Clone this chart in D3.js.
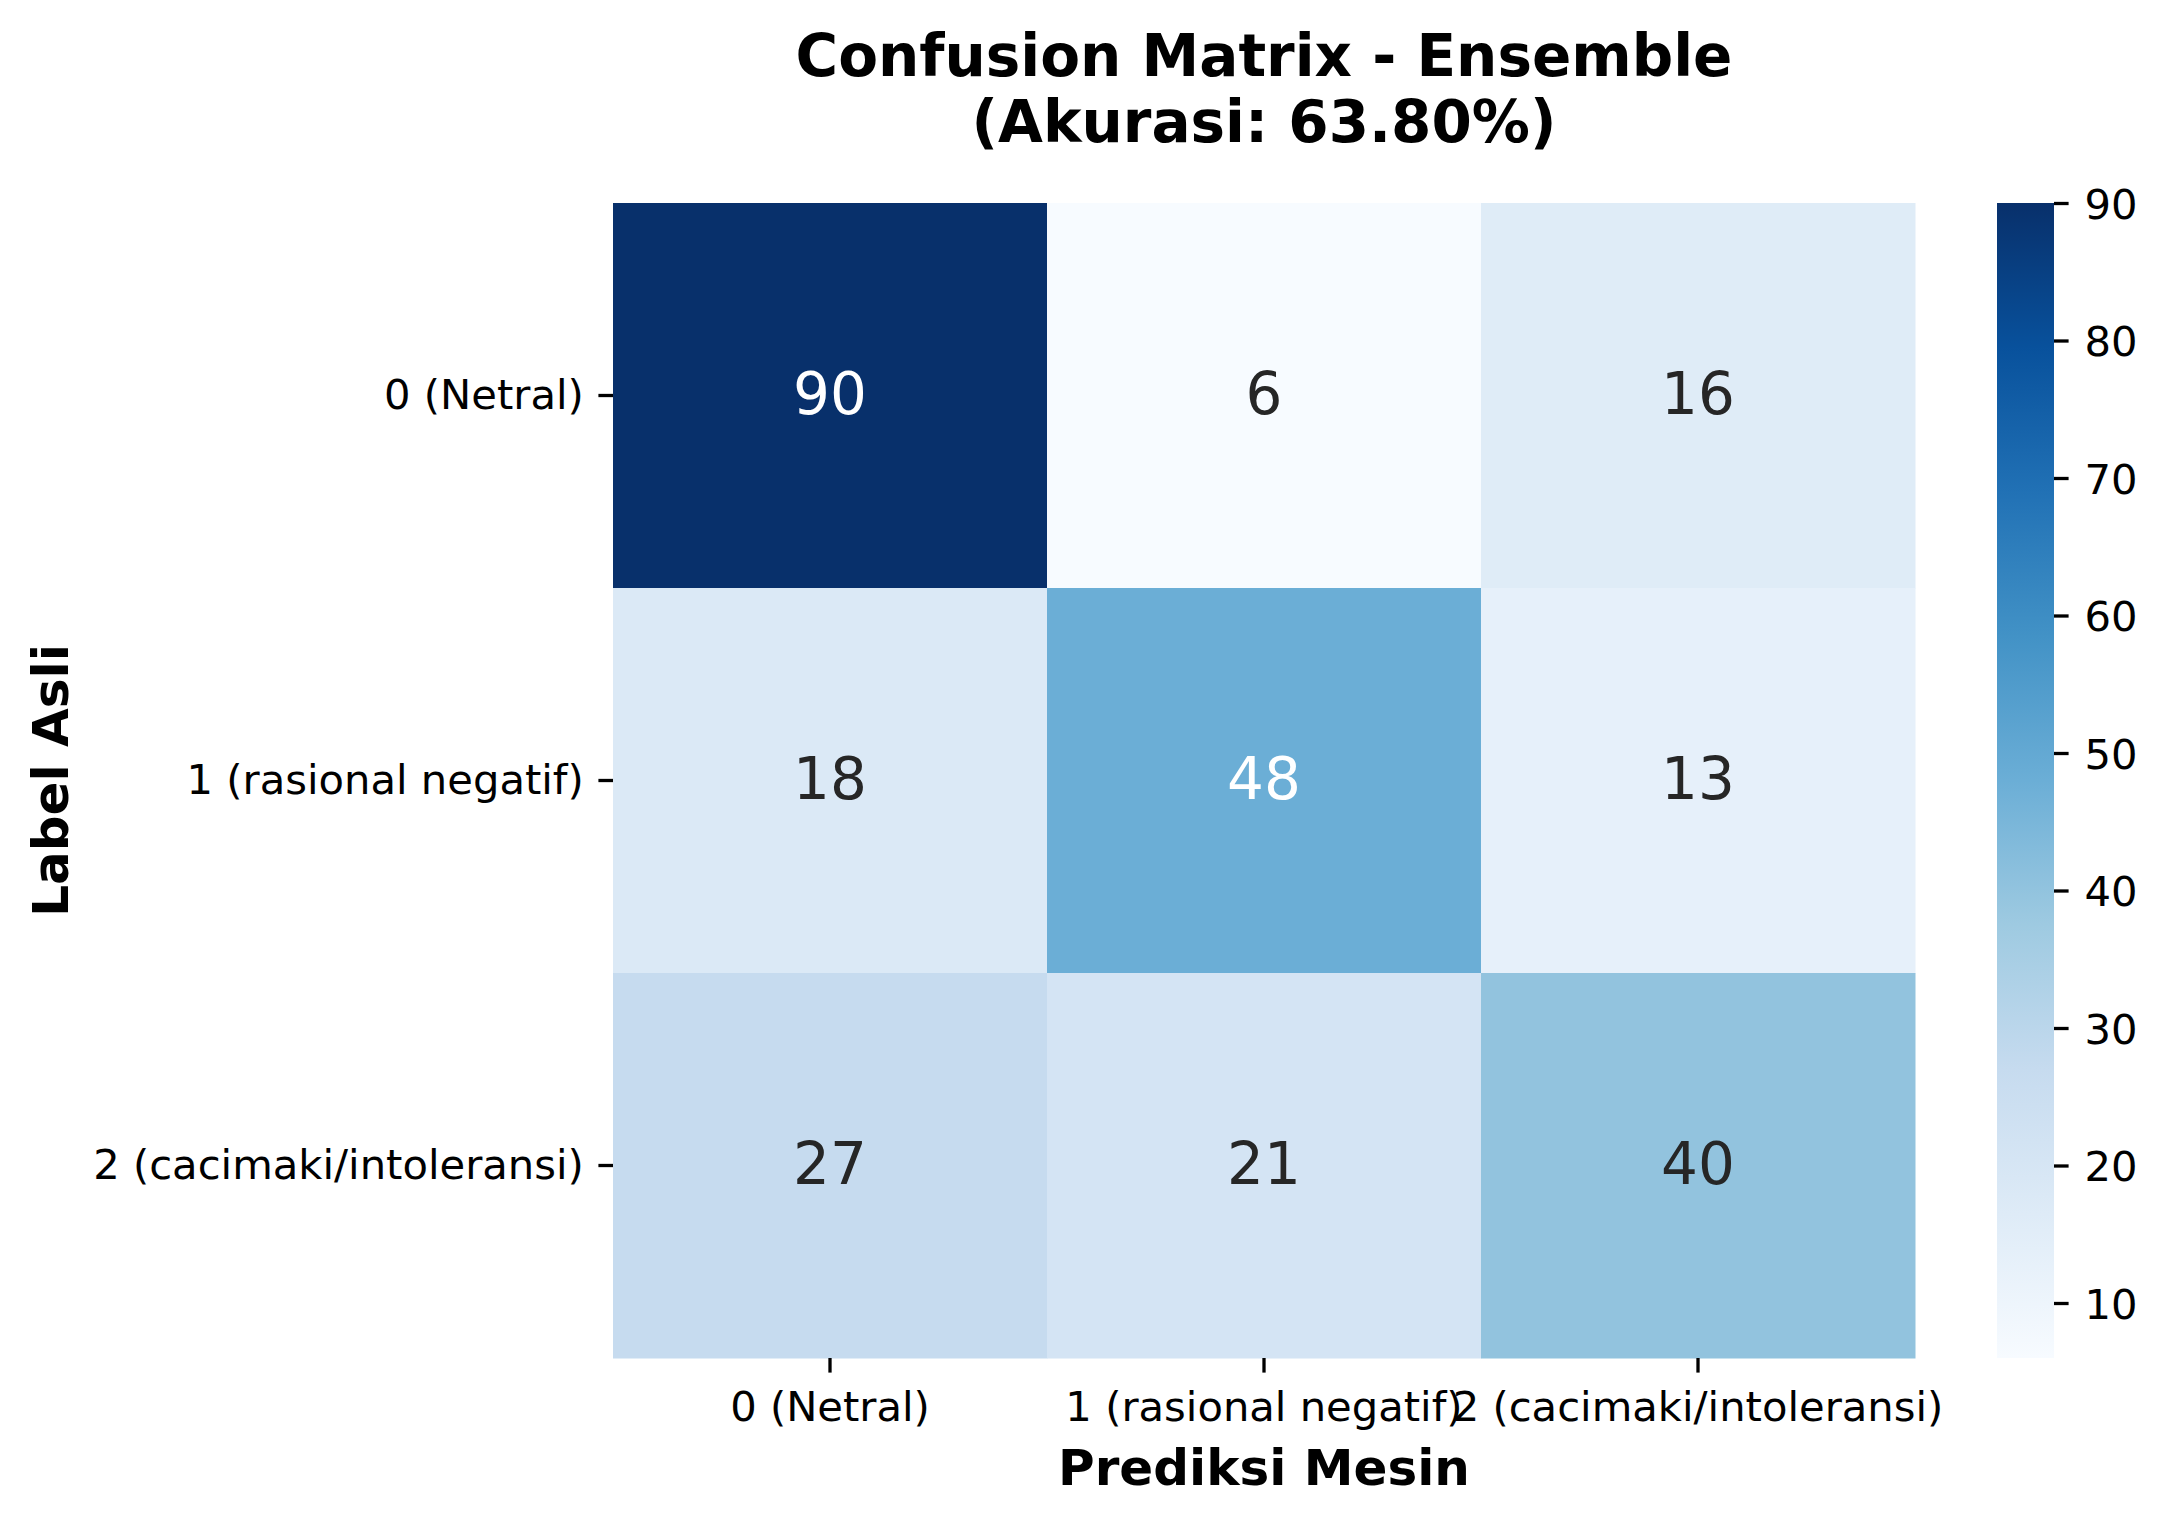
<!DOCTYPE html>
<html>
<head>
<meta charset="utf-8">
<script src="https://cdn.jsdelivr.net/npm/d3@7"></script>
<style>
  body { margin: 0; background: #fff; }
  svg { display: block; font-family: "DejaVu Sans", sans-serif; }
</style>
</head>
<body>
<svg id="chart" width="2166" height="1524"></svg>
<script>
// labels for both axes (true label rows, predicted label columns)
const classLabels = ["0 (Netral)", "1 (rasional negatif)", "2 (cacimaki/intoleransi)"];

// confusion matrix rows = true label
const row0 = [90, 6, 16];
const row1 = [18, 48, 13];
const row2 = [27, 21, 40];
const rows = [row0, row1, row2];

const colorbarTicks = [10, 20, 30, 40, 50, 60, 70, 80, 90];
const vmin = 6, vmax = 90;

// matplotlib "Blues" control colours
const bluesStops = ["#f7fbff", "#deebf7", "#c6dbef", "#9ecae1", "#6baed6",
                    "#4292c6", "#2171b5", "#08519c", "#08306b"];

const svg = d3.select("#chart");

const plotLeft = 613, plotRight = 1915, plotTop = 203, plotBottom = 1358;

const x = d3.scaleBand().domain(classLabels).range([plotLeft, plotRight]);
const y = d3.scaleBand().domain(classLabels).range([plotTop, plotBottom]);

const color = d3.scaleLinear()
  .domain(bluesStops.map((d, i) => vmin + (vmax - vmin) * i / (bluesStops.length - 1)))
  .range(bluesStops)
  .interpolate(d3.interpolateRgb)
  .clamp(true);

// flatten into cells
const cells = [];
rows.forEach((r, i) => r.forEach((v, j) => cells.push({ row: classLabels[i], col: classLabels[j], value: v })));

function luminance(c) {
  const rgb = d3.rgb(c);
  const f = v => { v /= 255; return v <= 0.03928 ? v / 12.92 : Math.pow((v + 0.055) / 1.055, 2.4); };
  return 0.2126 * f(rgb.r) + 0.7152 * f(rgb.g) + 0.0722 * f(rgb.b);
}

const cell = svg.append("g").selectAll("g")
  .data(cells)
  .enter().append("g");

cell.append("rect")
  .attr("x", d => x(d.col))
  .attr("y", d => y(d.row))
  .attr("width", x.bandwidth() + 0.5)
  .attr("height", y.bandwidth() + 0.5)
  .attr("fill", d => color(d.value));

cell.append("text")
  .attr("x", d => x(d.col) + x.bandwidth() / 2)
  .attr("y", d => y(d.row) + y.bandwidth() / 2 + 18)
  .attr("text-anchor", "middle")
  .attr("font-size", "58px")
  .attr("fill", d => luminance(color(d.value)) > 0.408 ? "#262626" : "#ffffff")
  .text(d => d.value);

// axes
const xAxis = svg.append("g")
  .attr("transform", `translate(0,${plotBottom})`)
  .call(d3.axisBottom(x).tickSize(14.6).tickPadding(14.6).tickSizeOuter(0));
xAxis.select(".domain").remove();
xAxis.selectAll("line").attr("stroke", "#000").attr("stroke-width", 3.3);
xAxis.selectAll("text")
  .attr("font-size", "41.7px")
  .attr("font-family", "DejaVu Sans")
  .attr("fill", "#000")
  .attr("dy", null)
  .attr("y", 63);

const yAxis = svg.append("g")
  .attr("transform", `translate(${plotLeft},0)`)
  .call(d3.axisLeft(y).tickSize(14.6).tickPadding(14.6).tickSizeOuter(0));
yAxis.select(".domain").remove();
yAxis.selectAll("line").attr("stroke", "#000").attr("stroke-width", 3.3);
yAxis.selectAll("text")
  .attr("font-size", "41.7px")
  .attr("font-family", "DejaVu Sans")
  .attr("fill", "#000")
  .attr("dy", "0.32em");

// colorbar
const cbLeft = 1997, cbWidth = 57;
const cbScale = d3.scaleLinear().domain([vmin, vmax]).range([plotBottom, plotTop]);

const grad = svg.append("defs").append("linearGradient")
  .attr("id", "cbgrad")
  .attr("x1", 0).attr("y1", 1).attr("x2", 0).attr("y2", 0);
grad.selectAll("stop")
  .data(bluesStops)
  .enter().append("stop")
  .attr("offset", (d, i) => i / (bluesStops.length - 1))
  .attr("stop-color", d => d);

svg.append("rect")
  .attr("x", cbLeft)
  .attr("y", plotTop)
  .attr("width", cbWidth)
  .attr("height", plotBottom - plotTop)
  .attr("fill", "url(#cbgrad)");

const cbAxis = svg.append("g")
  .attr("transform", `translate(${cbLeft + cbWidth},0)`)
  .call(d3.axisRight(cbScale).tickValues(colorbarTicks).tickSize(14.6).tickPadding(16).tickSizeOuter(0));
cbAxis.select(".domain").remove();
cbAxis.selectAll("line").attr("stroke", "#000").attr("stroke-width", 3.3);
cbAxis.selectAll("text")
  .attr("font-size", "41.7px")
  .attr("font-family", "DejaVu Sans")
  .attr("fill", "#000")
  .attr("dy", "0.36em");

// titles
const cx = (plotLeft + plotRight) / 2;
const title = svg.append("text")
  .attr("text-anchor", "middle")
  .attr("font-size", "58px")
  .attr("font-weight", "bold");
title.append("tspan").attr("x", cx).attr("y", 76).text("Confusion Matrix - Ensemble");
title.append("tspan").attr("x", cx).attr("y", 142).text("(Akurasi: 63.80%)");

svg.append("text")
  .attr("x", cx)
  .attr("y", 1485)
  .attr("text-anchor", "middle")
  .attr("font-size", "50px")
  .attr("font-weight", "bold")
  .text("Prediksi Mesin");

svg.append("text")
  .attr("transform", `translate(68,${(plotTop + plotBottom) / 2}) rotate(-90)`)
  .attr("text-anchor", "middle")
  .attr("font-size", "50px")
  .attr("font-weight", "bold")
  .text("Label Asli");
</script>
</body>
</html>
